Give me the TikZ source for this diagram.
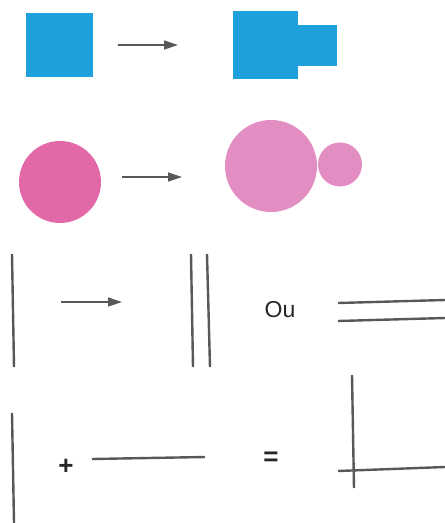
\documentclass[tikz,border=0pt]{standalone}
\usepackage{fontspec}
\setmainfont{Liberation Sans}
\usetikzlibrary{arrows.meta}
\definecolor{paperblue}{RGB}{30,160,220}
\definecolor{deeppink}{RGB}{226,104,168}
\definecolor{softpink}{RGB}{226,142,194}
\definecolor{pencil}{RGB}{88,88,88}
\tikzset{
  blueshape/.style={fill=paperblue, inner sep=0pt, outer sep=0pt},
  pinkdisc/.style={circle, inner sep=0pt, outer sep=0pt},
  growarrow/.style={draw=pencil, line width=1.3pt, -{Triangle[length=14pt,width=9pt]}},
  stick/.style={pencil, line width=2.4pt},
  sign/.style={text=black!85, inner sep=0pt, font=\fontsize{23}{23}\selectfont},
}
\begin{document}
\begin{tikzpicture}[x=1pt,y=-1pt]
  \useasboundingbox (0,0) rectangle (445,523);
  \node[blueshape, minimum width=67pt, minimum height=64pt] (sq) at (59.5,45) {};
  \node[blueshape, minimum width=65pt, minimum height=68pt] (bigsq) at (265.5,45) {};
  \node[blueshape, minimum width=39pt, minimum height=41pt] (smallsq) at (317,45.5) {};
  \coordinate (arrA) at (118,45);
  \coordinate (arrB) at (178,45);
  \draw[growarrow] (arrA) -- (arrB);
  \node[pinkdisc, fill=deeppink, minimum size=82pt] (disc) at (60,182) {};
  \node[pinkdisc, fill=softpink, minimum size=92pt] (bigdisc) at (271,166) {};
  \node[pinkdisc, fill=softpink, minimum size=44pt] (smalldisc) at (340,164.5) {};
  \coordinate (arrC) at (122,177);
  \coordinate (arrD) at (182,177);
  \draw[growarrow] (arrC) -- (arrD);
  \draw[stick] (12,254) -- (14,367);
  \coordinate (arrE) at (61,302);
  \coordinate (arrF) at (122,302);
  \draw[growarrow] (arrE) -- (arrF);
  \draw[stick] (191,254) -- (193,367) (207,254) -- (210,367);
  \node[sign] (ou) at (280,310) {Ou};
  \draw[stick] (338,303) -- (445,300) (338,321) -- (445,318);
  \draw[stick] (12,413) -- (14,523);
  \node[sign, font=\fontsize{26}{26}\bfseries] (plus) at (66,467) {+};
  \draw[stick] (92,459) -- (205,457);
  \node[sign, font=\fontsize{26}{26}\bfseries] (equals) at (271,459) {=};
  \draw[stick] (352,375) -- (354,488) (338,471) -- (445,467);
\end{tikzpicture}
\end{document}
